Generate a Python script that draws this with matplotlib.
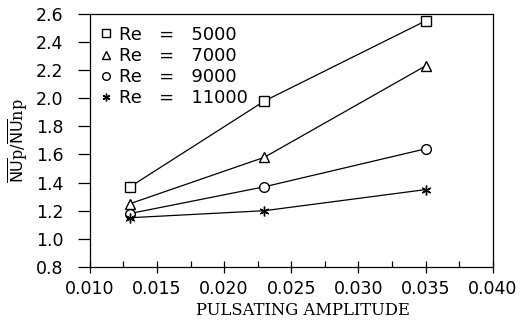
import matplotlib
matplotlib.use('Agg')
import matplotlib.pyplot as plt
from matplotlib.lines import Line2D
import matplotlib.ticker as plticker

# pulsating amplitude
amp = [0.013, 0.023, 0.035]
# Nu ratio for each Reynolds number
re5000 = [1.37, 1.98, 2.55]
re7000 = [1.25, 1.58, 2.23]
re9000 = [1.18, 1.37, 1.64]
re11000 = [1.15, 1.20, 1.35]
labels = ['Re   =   5000', 'Re   =   7000', 'Re   =   9000', 'Re   =   11000']
markers = ['s', '^', 'o', (6, 2, 0)]

fig = plt.figure(figsize=(5.22, 3.22), dpi=100)
ax = fig.add_axes([0.172, 0.171, 0.772, 0.786])

handles = []
for y, m, lab in zip([re5000, re7000, re9000, re11000], markers, labels):
  ms = 7
  ax.plot(amp, y, color='black', lw=0.9, marker=m, ms=ms, mfc='white',
          mec='black', mew=1.0)
  handles.append(Line2D([], [], ls='none', marker=m, ms=5.5, mfc='white',
                        mec='black', mew=1.0, color='black', label=lab))

ax.set_xlim(0.010, 0.040)
ax.set_ylim(0.8, 2.6)
ax.xaxis.set_major_locator(plticker.MultipleLocator(0.005))
ax.xaxis.set_minor_locator(plticker.MultipleLocator(0.0025))
ax.yaxis.set_major_locator(plticker.MultipleLocator(0.2))
ax.xaxis.set_major_formatter(plticker.FormatStrFormatter('%.3f'))
ax.yaxis.set_major_formatter(plticker.FormatStrFormatter('%.1f'))
ax.tick_params(axis='x', which='major', direction='inout', length=9, width=0.9,
               labelsize=12.5, pad=5)
ax.tick_params(axis='x', which='minor', direction='in', length=4, width=0.9)
ax.tick_params(axis='y', which='major', direction='out', length=9, width=0.9,
               labelsize=12.5, pad=10)
for s in ax.spines.values():
  s.set_linewidth(0.9)

ax.set_xlabel('PULSATING AMPLITUDE', family='DejaVu Serif', fontsize=11.8)
ax.xaxis.set_label_coords(0.53, -0.14)
ax.set_ylabel(r'$\overline{\mathrm{NU}}$p/$\overline{\mathrm{NU}}$np',
              family='DejaVu Serif', fontsize=11.5, labelpad=4)

ax.legend(handles=handles, loc='upper left', frameon=False, fontsize=13,
          handlelength=0.5, handletextpad=0.45, labelspacing=0.18,
          borderaxespad=0.3, borderpad=0.35)

fig.savefig('out.png', dpi=100)
